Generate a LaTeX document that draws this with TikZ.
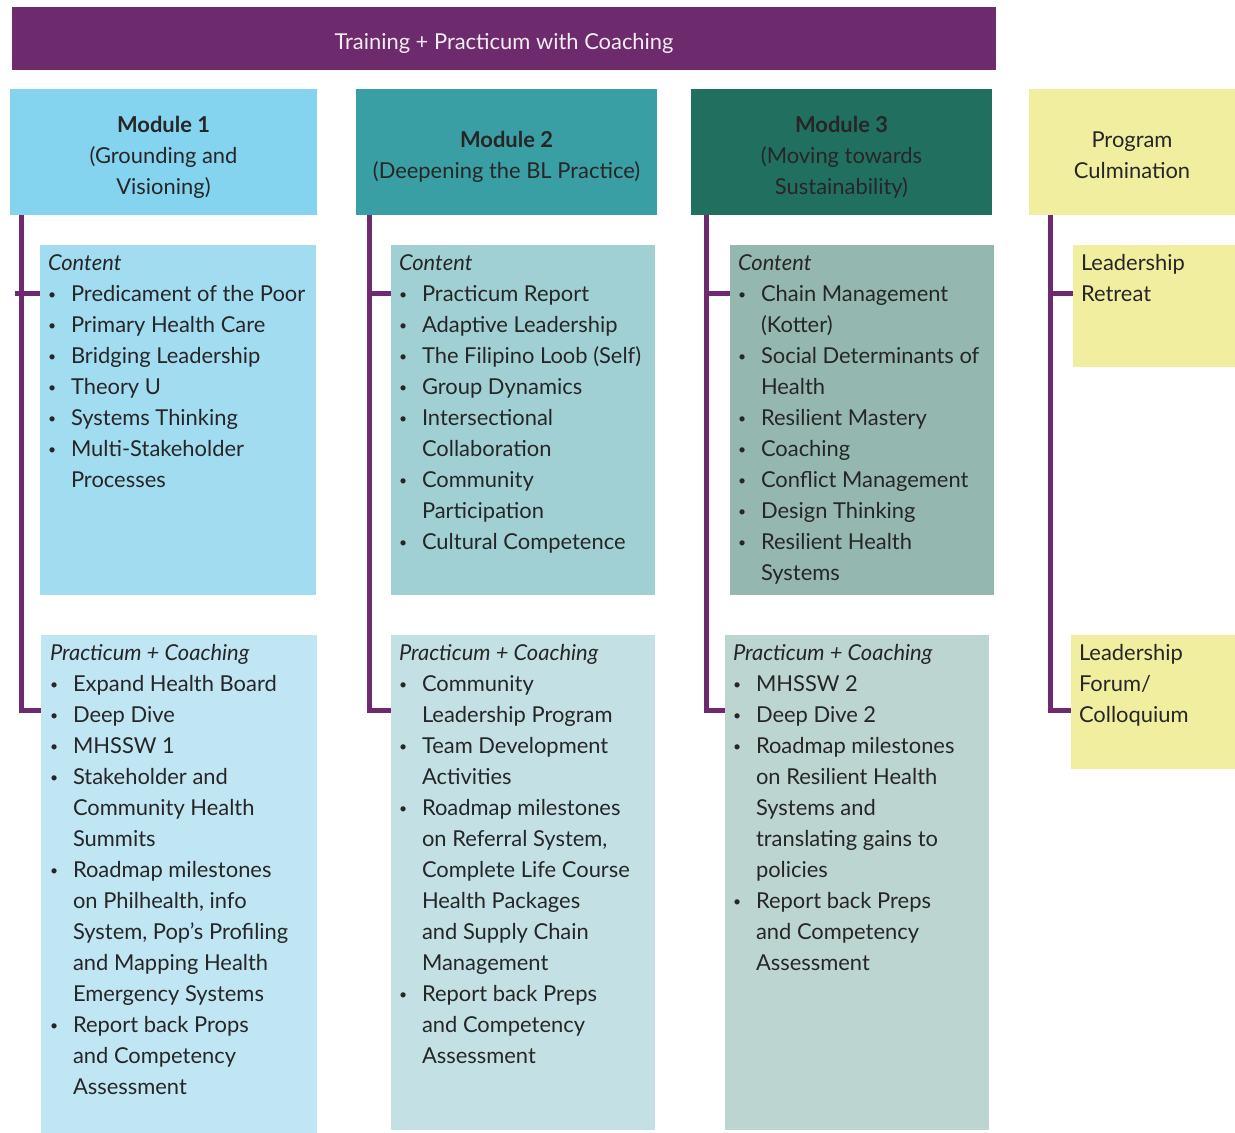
\documentclass[tikz,border=0pt]{standalone}
\usepackage{fontspec}
\setmainfont{Lato}
\usetikzlibrary{positioning}

\definecolor{plum}{HTML}{6D2A6C}
\definecolor{ink}{HTML}{262626}
\definecolor{skyhead}{HTML}{85D4EF}
\definecolor{skycont}{HTML}{A2DCF0}
\definecolor{skyprac}{HTML}{C0E6F4}
\definecolor{tealhead}{HTML}{3A9FA4}
\definecolor{tealcont}{HTML}{A0D0D3}
\definecolor{tealprac}{HTML}{C3E1E4}
\definecolor{pinehead}{HTML}{21705F}
\definecolor{pinecont}{HTML}{94B8AF}
\definecolor{pineprac}{HTML}{BDD5D1}
\definecolor{straw}{HTML}{F1EF9F}

\newcommand{\bul}{\makebox[23bp][l]{\raisebox{2.5bp}{\fontsize{14}{14}\selectfont\textbullet}}}
\newcommand{\headlines}[1]{\raisebox{-5bp}[\height][\depth]{\begin{tabular}{@{}c@{}}#1\end{tabular}}}

\begin{document}
\begin{tikzpicture}[%
    x=1bp, y=-1bp,
    every node/.style={inner sep=0pt, outer sep=0pt},
box/.style={rectangle, anchor=north west, align=center, text=ink, font=\fontsize{22}{31.1}\selectfont},
listtext/.style={anchor=north west, align=left, text=ink, font=\fontsize{22}{31.1}\selectfont},
spine/.style={draw=plum, line width=5bp}
]
\useasboundingbox (0,0) rectangle (1235,1133);

% top bar
\node[box, fill=plum, text=plum!8, minimum width=984bp, minimum height=63bp] (train) at (12,7) {\headlines{Training + Practicum with Coaching}};

% module headers
\node[box, fill=skyhead, minimum width=307bp, minimum height=126bp] (m1head) at (10,89) {\headlines{\textbf{Module 1}\\(Grounding and\\Visioning)}};
\node[box, fill=tealhead, minimum width=301bp, minimum height=126bp] (m2head) at (356,89) {\headlines{\textbf{Module 2}\\(Deepening the BL Practice)}};
\node[box, fill=pinehead, minimum width=301bp, minimum height=126bp] (m3head) at (691,89) {\headlines{\textbf{Module 3}\\(Moving towards\\Sustainability)}};
\node[box, fill=straw, minimum width=206bp, minimum height=126bp] (culmhead) at (1029,89) {\headlines{Program\\Culmination}};

% content boxes
\node[box, fill=skycont, minimum width=276bp, minimum height=350bp] (m1cont) at (40,245) {};
\node[box, fill=tealcont, minimum width=264bp, minimum height=350bp] (m2cont) at (391,245) {};
\node[box, fill=pinecont, minimum width=264bp, minimum height=350bp] (m3cont) at (730,245) {};
\node[box, fill=straw, minimum width=162bp, minimum height=122bp] (retreat) at (1073,245) {};

% practicum boxes
\node[box, fill=skyprac, minimum width=276bp, minimum height=498bp] (m1prac) at (41,635) {};
\node[box, fill=tealprac, minimum width=264bp, minimum height=495bp] (m2prac) at (391,635) {};
\node[box, fill=pineprac, minimum width=264bp, minimum height=495bp] (m3prac) at (725,635) {};
\node[box, fill=straw, minimum width=164bp, minimum height=134bp] (forum) at (1071,635) {};

% content lists
\node[listtext] (m1conttext) [below right=4bp and 8bp of m1cont.north west] {%
\begin{tabular}{@{}l@{}l@{}}
\multicolumn{2}{@{}l@{}}{\textit{Content}}\\
\bul & Predicament of the Poor\\
\bul & Primary Health Care\\
\bul & Bridging Leadership\\
\bul & Theory U\\
\bul & Systems Thinking\\
\bul & Multi-Stakeholder\\
 & Processes
\end{tabular}};
\node[listtext] (m2conttext) [below right=4bp and 8bp of m2cont.north west] {%
\begin{tabular}{@{}l@{}l@{}}
\multicolumn{2}{@{}l@{}}{\textit{Content}}\\
\bul & Practicum Report\\
\bul & Adaptive Leadership\\
\bul & The Filipino Loob (Self)\\
\bul & Group Dynamics\\
\bul & Intersectional\\
 & Collaboration\\
\bul & Community\\
 & Participation\\
\bul & Cultural Competence
\end{tabular}};
\node[listtext] (m3conttext) [below right=4bp and 8bp of m3cont.north west] {%
\begin{tabular}{@{}l@{}l@{}}
\multicolumn{2}{@{}l@{}}{\textit{Content}}\\
\bul & Chain Management\\
 & (Kotter)\\
\bul & Social Determinants of\\
 & Health\\
\bul & Resilient Mastery\\
\bul & Coaching\\
\bul & Conflict Management\\
\bul & Design Thinking\\
\bul & Resilient Health\\
 & Systems
\end{tabular}};
\node[listtext] (retreattext) [below right=4bp and 8bp of retreat.north west] {%
\begin{tabular}{@{}l@{}}
Leadership\\
Retreat
\end{tabular}};

% practicum lists
\node[listtext] (m1practext) [below right=4bp and 9bp of m1prac.north west] {%
\begin{tabular}{@{}l@{}l@{}}
\multicolumn{2}{@{}l@{}}{\textit{Practicum + Coaching}}\\
\bul & Expand Health Board\\
\bul & Deep Dive\\
\bul & MHSSW 1\\
\bul & Stakeholder and\\
 & Community Health\\
 & Summits\\
\bul & Roadmap milestones\\
 & on Philhealth, info\\
 & System, Pop’s Profiling\\
 & and Mapping Health\\
 & Emergency Systems\\
\bul & Report back Props\\
 & and Competency\\
 & Assessment
\end{tabular}};
\node[listtext] (m2practext) [below right=4bp and 8bp of m2prac.north west] {%
\begin{tabular}{@{}l@{}l@{}}
\multicolumn{2}{@{}l@{}}{\textit{Practicum + Coaching}}\\
\bul & Community\\
 & Leadership Program\\
\bul & Team Development\\
 & Activities\\
\bul & Roadmap milestones\\
 & on Referral System,\\
 & Complete Life Course\\
 & Health Packages\\
 & and Supply Chain\\
 & Management\\
\bul & Report back Preps\\
 & and Competency\\
 & Assessment
\end{tabular}};
\node[listtext] (m3practext) [below right=4bp and 8bp of m3prac.north west] {%
\begin{tabular}{@{}l@{}l@{}}
\multicolumn{2}{@{}l@{}}{\textit{Practicum + Coaching}}\\
\bul & MHSSW 2\\
\bul & Deep Dive 2\\
\bul & Roadmap milestones\\
 & on Resilient Health\\
 & Systems and\\
 & translating gains to\\
 & policies\\
\bul & Report back Preps\\
 & and Competency\\
 & Assessment
\end{tabular}};
\node[listtext] (forumtext) [below right=4bp and 8bp of forum.north west] {%
\begin{tabular}{@{}l@{}}
Leadership\\
Forum/\\
Colloquium
\end{tabular}};

% spines
\coordinate (m1mid) at (21,293);
\coordinate (m1low) at (21,710);
\coordinate (m2mid) at (369,293);
\coordinate (m2low) at (369,710);
\coordinate (m3mid) at (706,293);
\coordinate (m3low) at (706,710);
\coordinate (culmmid) at (1050,293);
\coordinate (culmlow) at (1050,710);

\draw[spine] (m1head.south -| m1low) -- (m1low) -- (m1low -| m1prac.west);
\draw[spine] ([xshift=-6bp]m1mid) -- (m1mid -| m1cont.west);
\draw[spine] (m2head.south -| m2low) -- (m2low) -- (m2low -| m2prac.west);
\draw[spine] (m2mid) -- (m2mid -| m2cont.west);
\draw[spine] (m3head.south -| m3low) -- (m3low) -- (m3low -| m3prac.west);
\draw[spine] (m3mid) -- (m3mid -| m3cont.west);
\draw[spine] (culmhead.south -| culmlow) -- (culmlow) -- (culmlow -| forum.west);
\draw[spine] (culmmid) -- (culmmid -| retreat.west);

\end{tikzpicture}
\end{document}
